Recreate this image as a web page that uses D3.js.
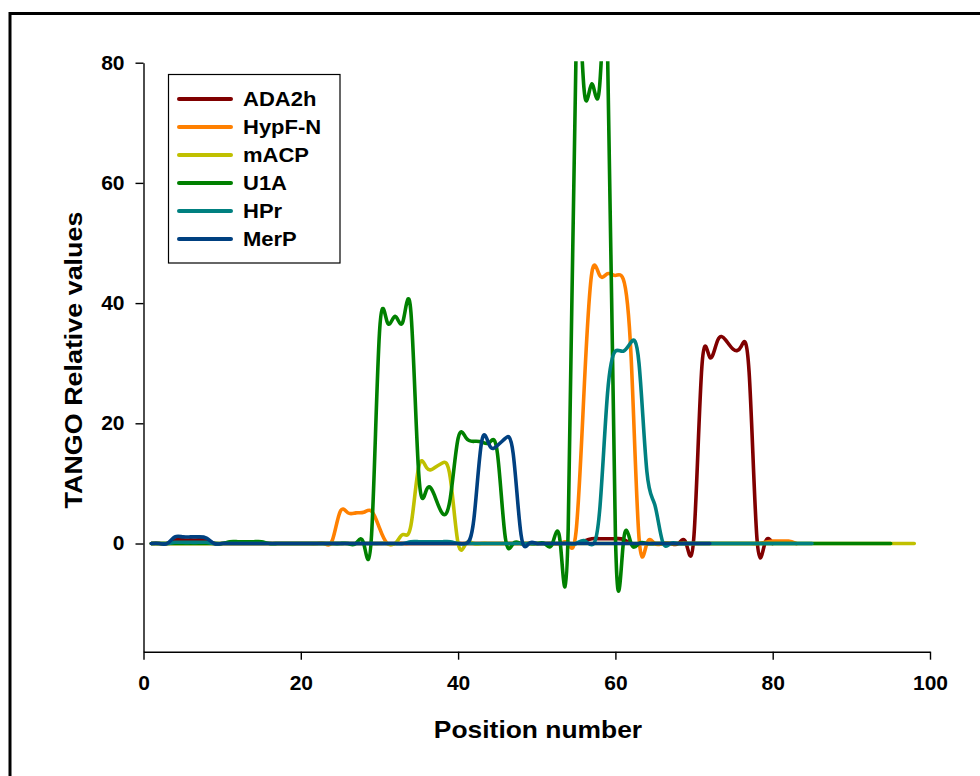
<!DOCTYPE html>
<html><head><meta charset="utf-8">
<script src="https://cdn.jsdelivr.net/npm/d3@7"></script>
<style>
html,body{margin:0;padding:0;background:#fff;}
svg{display:block;font-family:"Liberation Sans",Arial,sans-serif;}
</style></head><body>
<svg id="chart" width="980" height="776"></svg>
<script>
// ---- data (value at position 1, 2, 3, ...) ----
const seriesNames = ["ADA2h", "HypF-N", "mACP", "U1A", "HPr", "MerP"];
const xTickValues = [0, 20, 40, 60, 80, 100];
const yTickValues = [0, 20, 40, 60, 80];

const ADA2h = [
  0,0,0,0.6,0.6,0.6,0.6,0.6,0,0,
  0,0,0,0,0,0,0,0,0,0,
  0,0,0,0,0,0,0,0,0,0,
  0,0,0,0,0,0,0,0,0,0,
  0,0,0,0,0,0,0,0,0,0,
  0,0,0,0,0,0.4,0.8,0.8,0.8,0.8,
  0.7,0,0,0,0,0,0,0,0,1.5,
  29.5,31,33.8,33.9,32.3,32.8,28.5,0.8,0,0
];
const HypFN = [
  0,0,0,0,0,0,0,0,0,0,
  0,0,0,0,0,0,0,0,0,0,
  0,0,0,0.5,5.3,5.1,5.1,5.2,5.4,2.6,
  0,0,0,0,0,0,0,0,0,0,
  0,0,0,0,0,0,0,0,0,0,
  0,0,0,0,2,25,45,44.6,44.9,44.6,
  44,31,1,0,0,0,0,0,0,0,
  0,0,0,0,0,0,0,0,0.2,0.4,
  0.4,0.4,0
];
const mACP = [
  0,0,0,0,0,0,0,0,0,0,
  0,0,0,0,0,0,0,0,0,0,
  0,0,0,0,0,0,0,0,0,0,
  0,0,1.5,3,12.8,12.6,12.6,13.4,11,0,
  0,0,0,0,0,0,0,0,0,0,
  0,0,0,0,0,0,0,0,0,0,
  0,0,0,0,0,0,0,0,0,0,
  0,0,0,0,0,0,0,0,0,0,
  0,0,0,0,0,0,0,0,0,0,
  0,0,0,0,0,0,0,0
];
const U1A = [
  0,0,0,0,0,0,0,0,0,0,
  0.3,0.3,0.3,0.3,0.3,0,0,0,0,0,
  0,0,0,0,0,0,0,0,1.5,35,
  36.8,37.8,37,38.5,11.5,9,8,5,7.5,17.5,
  17.6,17,16.9,16.8,15,1,0,0,0,0,
  0,0,0,2.5,82,75.8,76.5,76.2,82,1.5,
  0,0,0,0,0,0,0,0,0,0,
  0,0,0,0,0,0,0,0,0,0,
  0,0,0,0,0,0,0,0,0,0,
  0,0,0,0,0
];
const HPr = [
  0,0,0,0.2,0.2,0.2,0.2,0.2,0,0,
  0,0,0,0,0,0,0,0,0,0,
  0,0,0,0,0,0,0,0,0,0,
  0,0,0,0.3,0.3,0.3,0.3,0.3,0.3,0,
  0,0,0,0,0,0,0,0,0,0,
  0,0,0,0,0,0.5,-0.2,5.5,25,32,
  32,33.5,30,12,6.5,0.3,0,0,0,0,
  0,0,0,0,0,0,0,0,0,0,
  0,0,0,0,0
];
const MerP = [
  0,0,0,1.1,1.1,1.1,1.1,0.9,0,0,
  0,0,0,0,0,0,0,0,0,0,
  0,0,0,0,0,0,0,0,0,0,
  0,0,0,0,0,0,0,0,0,0,
  0,4,17,16.3,16.3,17.5,15,1.5,0,0,
  0,0,0,0,0,0,0,0,0,0,
  0,0,0,0,0,0,0,0,0,0,
  0,0
];
const seriesValues = [ADA2h, HypFN, mACP, U1A, HPr, MerP];
const seriesColors = ["#800000", "#ff8000", "#c0c000", "#008000", "#008080", "#004080"];

// ---- layout ----
const svg = d3.select("#chart");
const X0 = 143.5, X1 = 930, Y0 = 651.7, Y1 = 62.7;
const x = d3.scaleLinear().domain([0, 100]).range([X0, X1]);
const y = d3.scaleLinear().domain([-18, 80]).range([Y0, Y1]);

// stretch text a little horizontally (reference font runs wider)
function widen(sel, f) {
  sel.each(function () {
    const w = this.getComputedTextLength();
    d3.select(this).attr("textLength", w * f).attr("lengthAdjust", "spacingAndGlyphs");
  });
}

// outer frame
svg.append("rect").attr("x", 10).attr("y", 13.5).attr("width", 1000).attr("height", 800)
  .attr("fill", "none").attr("stroke", "#000").attr("stroke-width", 3);

// clip
svg.append("defs").append("clipPath").attr("id", "plotclip")
  .append("rect").attr("x", X0).attr("y", Y1 - 1.5).attr("width", X1 - X0).attr("height", Y0 - Y1 + 1.5);

// axes
const xAxis = d3.axisBottom(x).tickValues(xTickValues).tickSize(8).tickSizeOuter(0).tickPadding(16);
const yAxis = d3.axisLeft(y).tickValues(yTickValues).tickSize(8).tickSizeOuter(0).tickPadding(11);

const gx = svg.append("g").attr("transform", `translate(0,${Y0})`).call(xAxis);
const gy = svg.append("g").attr("transform", `translate(${X0},0)`).call(yAxis);
[gx, gy].forEach(g => {
  g.select(".domain").attr("stroke", "#000").attr("stroke-width", 1.4);
  g.selectAll(".tick line").attr("stroke", "#000").attr("stroke-width", 1.4);
  g.selectAll(".tick text").attr("fill", "#000").style("font-family", '"Liberation Sans", Arial, sans-serif')
    .style("font-size", "20px").style("font-weight", "bold");
  widen(g.selectAll(".tick text"), 1.05);
});

// lines
const line = d3.line()
  .x((d, i) => x(i + 1))
  .y(d => y(d))
  .curve(d3.curveNatural);

const plot = svg.append("g").attr("clip-path", "url(#plotclip)");
seriesValues.forEach((vals, k) => {
  plot.append("path").datum(vals)
    .attr("d", line)
    .attr("fill", "none")
    .attr("stroke", seriesColors[k])
    .attr("stroke-width", 3.6)
    .attr("stroke-linejoin", "round")
    .attr("stroke-linecap", "round");
});

// axis titles
const xt = svg.append("text").attr("x", 538).attr("y", 737.5).attr("text-anchor", "middle")
  .style("font-size", "24px").style("font-weight", "bold").text("Position number");
widen(xt, 1.1);
const yt = svg.append("text").attr("transform", "translate(81.5,360) rotate(-90)").attr("text-anchor", "middle")
  .style("font-size", "24px").style("font-weight", "bold").text("TANGO Relative values");
widen(yt, 1.12);

// legend
const lg = svg.append("g");
lg.append("rect").attr("x", 168.5).attr("y", 74.5).attr("width", 171.5).attr("height", 188.5)
  .attr("fill", "#fff").attr("stroke", "#000").attr("stroke-width", 1.2);
seriesNames.forEach((name, k) => {
  const cy = 99 + k * 28;
  lg.append("line").attr("x1", 179).attr("x2", 231).attr("y1", cy).attr("y2", cy)
    .attr("stroke", seriesColors[k]).attr("stroke-width", 4).attr("stroke-linecap", "round");
  const t = lg.append("text").attr("x", 243).attr("y", cy + 7.2)
    .style("font-size", "20px").style("font-weight", "bold").text(name);
  widen(t, 1.1);
});
</script>
</body></html>
